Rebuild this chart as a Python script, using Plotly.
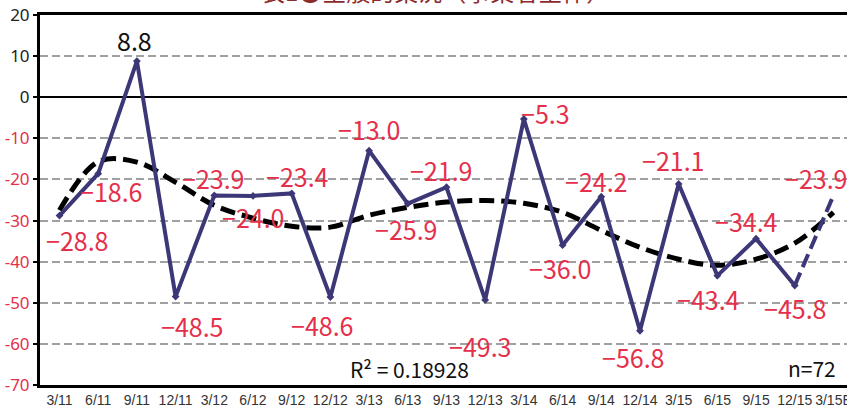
import plotly.graph_objects as go

# ---- data ----
periods = ["3/11", "6/11", "9/11", "12/11", "3/12", "6/12", "9/12", "12/12",
           "3/13", "6/13", "9/13", "12/13", "3/14", "6/14", "9/14", "12/14",
           "3/15", "6/15", "9/15", "12/15", "3/15E"]
di_values = [-28.8, -18.6, 8.8, -48.5, -23.9, -24.0, -23.4, -48.6,
             -13.0, -25.9, -21.9, -49.3, -5.3, -36.0, -24.2, -56.8,
             -21.1, -43.4, -34.4, -45.8, -23.9]
# polynomial trend line
trend_values = [-27.5, -15.7, -15.8, -20.7, -26.3, -29.4, -31.4, -31.6,
                -28.7, -26.8, -25.5, -25.1, -25.8, -28.0, -32.4, -36.5,
                -39.4, -40.9, -39.4, -35.5, -28.0]
y_ticks = [20, 10, 0, -10, -20, -30, -40, -50, -60, -70]
r_squared_text = "R² = 0.18928"
n_text = "n=72"
title_text = "表1●全般的業況（事業者全体）"

# ---- styles ----
NAVY = "#3c3878"
RED = "#e5304b"
LABEL_FONT = "Noto Sans CJK JP, Noto Sans, sans-serif"
label_offsets = [(17, -24), (13, -17), (-2, 21), (16, -29), (-1, 17), (0, -21),
                 (6, 17), (-8, -28), (0, 22), (-2, -25), (-5, 17), (-5, -46),
                 (22, 6), (-3, -23), (-5, 16), (-7, -26), (-6, 24), (-9, -23),
                 (-10, 18), (0, -22), (-17, 17)]

xs = list(range(len(periods)))
n_actual = len(periods) - 1

fig = go.Figure()

# trend (black thick dashed)
fig.add_trace(go.Scatter(
    x=xs, y=trend_values, mode="lines",
    line=dict(color="black", width=5, dash="15px,7px", shape="spline", smoothing=1.0),
    hoverinfo="skip", showlegend=False))

# actual series (solid)
fig.add_trace(go.Scatter(
    x=xs[:n_actual], y=di_values[:n_actual], mode="lines+markers",
    line=dict(color=NAVY, width=4), marker=dict(color=NAVY, size=6, symbol="diamond"),
    showlegend=False))

# forecast segment (dashed)
fig.add_trace(go.Scatter(
    x=xs[n_actual - 1:], y=di_values[n_actual - 1:], mode="lines",
    line=dict(color=NAVY, width=4, dash="14px,6px"),
    showlegend=False))

annotations = []
for i, v in enumerate(di_values):
    txt = f"{v:.1f}" if v >= 0 else f"−{abs(v):.1f}"
    dx, dy = label_offsets[i]
    annotations.append(dict(
        x=xs[i], y=v, xref="x", yref="y", text=txt, showarrow=False,
        xshift=dx, yshift=dy,
        font=dict(family=LABEL_FONT, size=25, color=("#111111" if v >= 0 else RED))))

annotations.append(dict(x=9.05, y=-66.2, xref="x", yref="y", text=r_squared_text,
                        showarrow=False, font=dict(family=LABEL_FONT, size=21, color="#111111")))
annotations.append(dict(x=19.45, y=-65.8, xref="x", yref="y", text=n_text,
                        showarrow=False, font=dict(family=LABEL_FONT, size=21, color="#111111")))
annotations.append(dict(x=0.49, y=1, xref="paper", yref="paper", yanchor="bottom",
                        yshift=5, text=title_text, showarrow=False,
                        font=dict(family=LABEL_FONT, size=24, color="#8c2b2b")))

tick_text = [f"<span style='color:{'#222222' if t >= 0 else RED}'>{t}</span>" for t in y_ticks]

fig.update_layout(
    template="none",
    width=847, height=408,
    margin=dict(l=40, r=0, t=15, b=23),
    paper_bgcolor="white", plot_bgcolor="white",
    annotations=annotations,
    xaxis=dict(
        range=[-0.504, 20.35], tickmode="array", tickvals=xs, ticktext=periods,
        automargin=False, ticklabeloverflow="allow",
        showgrid=False, zeroline=False,
        showline=True, linecolor="black", linewidth=3, mirror=True,
        tickfont=dict(family="Liberation Sans Narrow, Arial Narrow, sans-serif", size=14, color="#333333"),
        ticks="", ticklabelstandoff=0),
    yaxis=dict(
        range=[-70, 20], tickmode="array", tickvals=y_ticks, ticktext=tick_text,
        automargin=False,
        showgrid=True, gridcolor="#a0a0a0", gridwidth=2, griddash="8px,4px",
        zeroline=True, zerolinecolor="black", zerolinewidth=2,
        showline=True, linecolor="black", linewidth=3,
        ticks="outside", ticklen=4, tickwidth=2, tickcolor="black",
        tickfont=dict(family="Noto Sans, sans-serif", size=17)),
)

fig.write_html("out.html", config={"displayModeBar": False},
               post_script="document.body.style.margin='0';document.body.style.overflow='hidden';")
